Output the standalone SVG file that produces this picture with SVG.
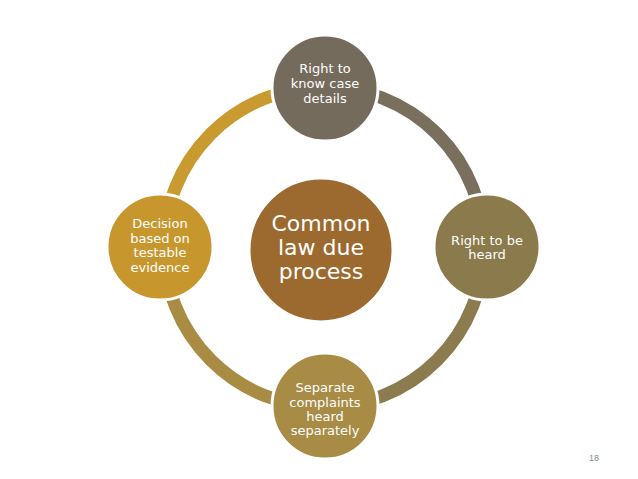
<svg xmlns="http://www.w3.org/2000/svg" width="638" height="479" viewBox="0 0 638 479">
<style>
.arc{fill:none;stroke-width:13}
.node{stroke:#ffffff;stroke-width:3}
.t{font-family:"DejaVu Sans","Liberation Sans",sans-serif;fill:#ffffff;text-anchor:middle;font-size:13px}
.c{font-size:22px}
</style>
<rect width="638" height="479" fill="#ffffff"/>
<g id="connectors">
<path class="arc" stroke="#C99A30" d="M164 247 A160 160 0 0 1 324 87"/>
<path class="arc" stroke="#7A6F5D" d="M324 87 A160 160 0 0 1 484 247"/>
<path class="arc" stroke="#8C7B4E" d="M484 247 A160 160 0 0 1 324 407"/>
<path class="arc" stroke="#A98C44" d="M324 407 A160 160 0 0 1 164 247"/>
</g>
<g id="center">
<circle class="node" cx="321" cy="250" r="72" fill="#9C6A2F"/>
<text class="t c" x="321" y="231">Common</text>
<text class="t c" x="321" y="255">law due</text>
<text class="t c" x="321" y="279">process</text>
</g>
<g id="top">
<circle class="node" cx="325" cy="88" r="53" fill="#746B5C"/>
<text class="t" x="325" y="73">Right to</text>
<text class="t" x="325" y="88">know case</text>
<text class="t" x="325" y="103">details</text>
</g>
<g id="right">
<circle class="node" cx="487" cy="247" r="53" fill="#8B7A4B"/>
<text class="t" x="487" y="245">Right to be</text>
<text class="t" x="487" y="259">heard</text>
</g>
<g id="bottom">
<circle class="node" cx="325" cy="406" r="53" fill="#A88B45"/>
<text class="t" x="325" y="392">Separate</text>
<text class="t" x="325" y="407">complaints</text>
<text class="t" x="325" y="421">heard</text>
<text class="t" x="325" y="435">separately</text>
</g>
<g id="left">
<circle class="node" cx="160" cy="247" r="53" fill="#C7972E"/>
<text class="t" x="160" y="228">Decision</text>
<text class="t" x="160" y="243">based on</text>
<text class="t" x="160" y="257">testable</text>
<text class="t" x="160" y="272">evidence</text>
</g>
<text x="594" y="461" font-family="Liberation Sans, sans-serif" font-size="9" fill="#8a8a8a" text-anchor="middle">18</text>
</svg>
